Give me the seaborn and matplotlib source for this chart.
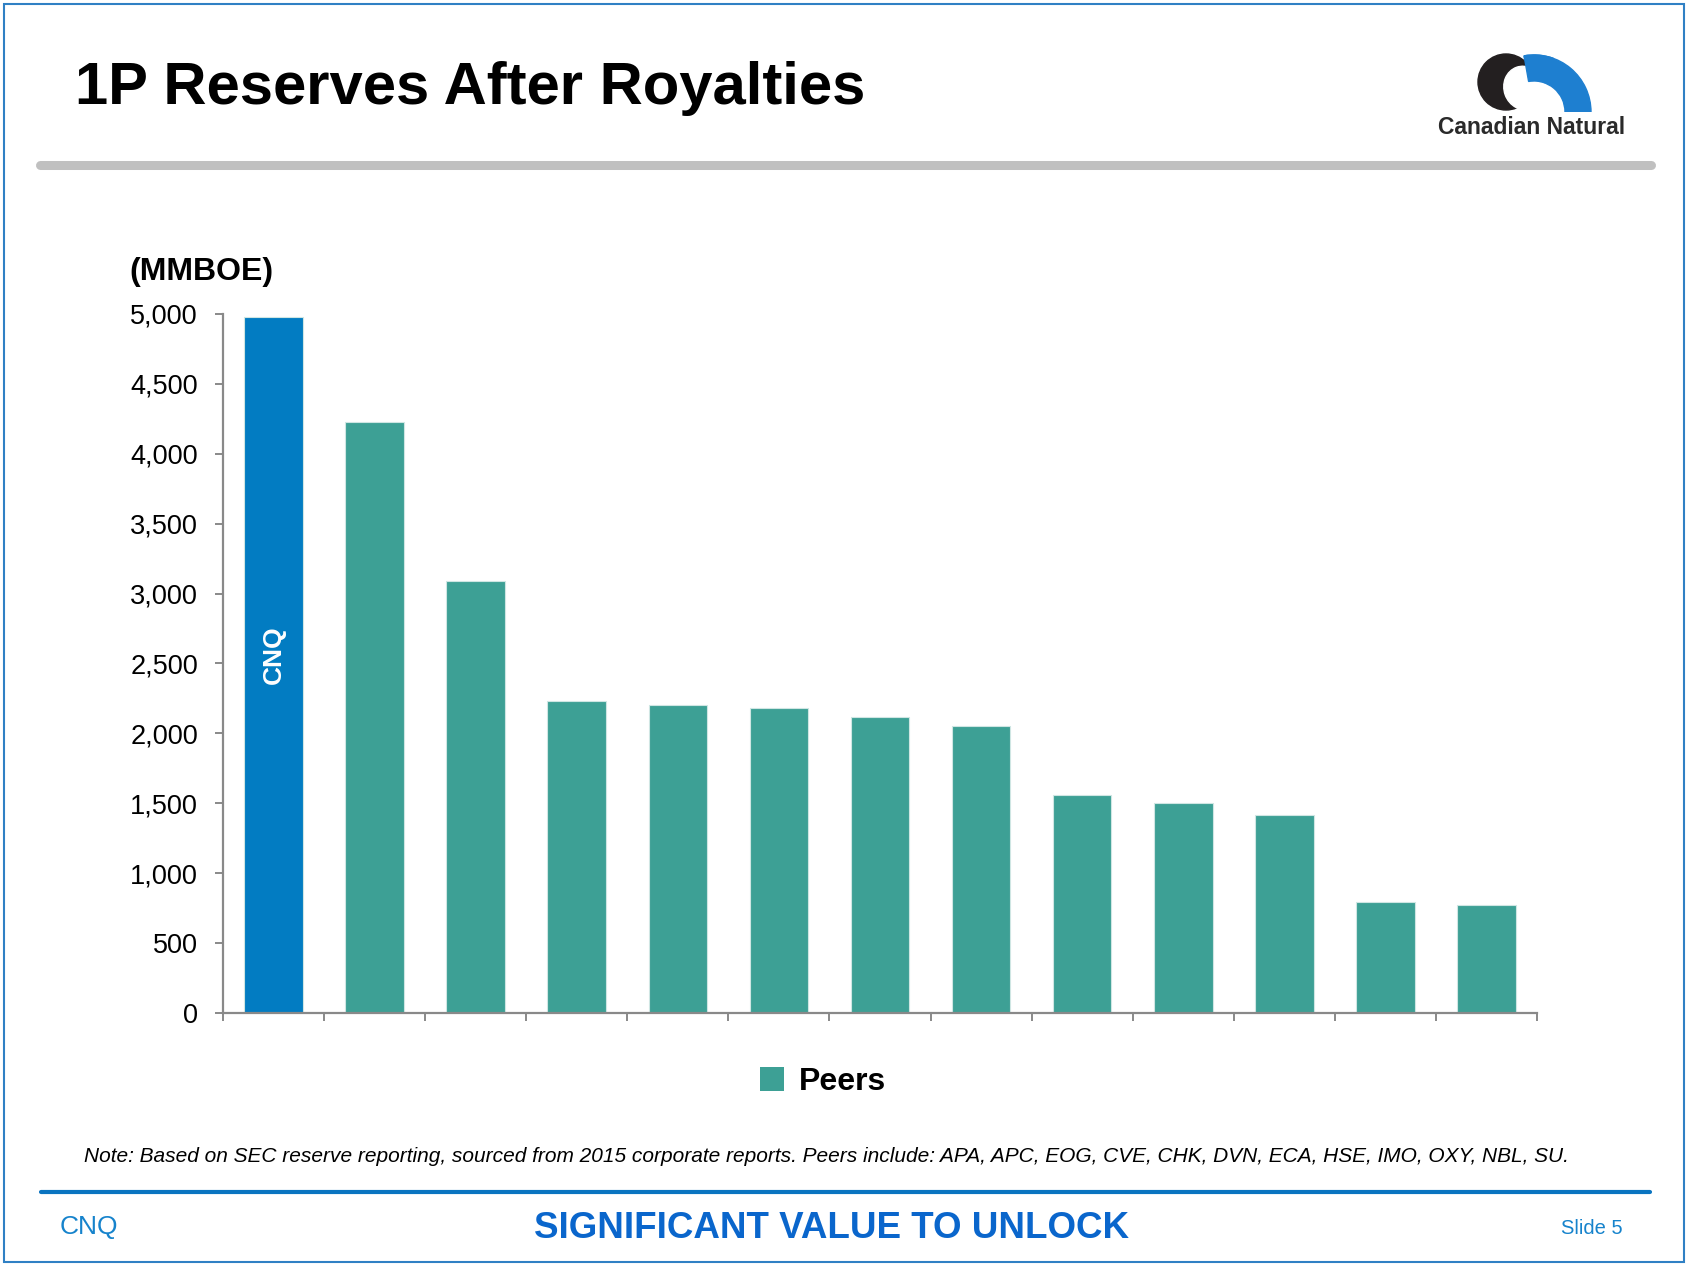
import numpy as np
import pandas as pd
import seaborn as sns
import matplotlib.pyplot as plt
from matplotlib.patches import Patch, Rectangle, Wedge, Circle, Ellipse
from matplotlib.lines import Line2D

# chart data
companies = ["CNQ", "Peer 1", "Peer 2", "Peer 3", "Peer 4", "Peer 5", "Peer 6",
             "Peer 7", "Peer 8", "Peer 9", "Peer 10", "Peer 11", "Peer 12"]
reserves = [4975, 4225, 3090, 2230, 2200, 2180, 2115, 2055, 1560, 1500, 1418, 796, 775]
groups = ["CNQ"] + ["Peers"] * 12
y_ticks = [0, 500, 1000, 1500, 2000, 2500, 3000, 3500, 4000, 4500, 5000]

colors = {"CNQ": "#027CC2", "Peers": "#3DA095"}

sns.set_theme(style="white")
plt.rcParams['font.family'] = ['Liberation Sans', 'DejaVu Sans']
plt.rcParams['text.color'] = 'black'
plt.rcParams['axes.labelcolor'] = 'black'
plt.rcParams['xtick.color'] = 'black'
plt.rcParams['ytick.color'] = 'black'

W, H = 1688, 1266
fig = plt.figure(figsize=(W / 100, H / 100), dpi=100)

def fx(px):
    return px / W

def fy(py):
    return 1 - py / H

ax = fig.add_axes([fx(223), fy(1013), fx(1537) - fx(223), fy(314) - fy(1013)])

df = pd.DataFrame({"company": companies, "reserves": reserves, "group": groups})
sns.barplot(data=df, x="company", y="reserves", hue="group", palette=colors,
            dodge=False, width=0.58, legend=False, ax=ax, saturation=1,
            edgecolor="#CFE6E3", linewidth=0.8)

ax.set_ylim(0, 5000)
ax.set_xlim(-0.5, len(companies) - 0.5)
ax.set_yticks(y_ticks)
ax.set_yticklabels([f"{v:,}" for v in y_ticks], fontsize=19.5)
ax.set_xticks(np.arange(-0.5, len(companies), 1.0))
ax.set_xticklabels([])
ax.set_xlabel("")
ax.set_ylabel("")

for side in ["top", "right"]:
    ax.spines[side].set_visible(False)
for side in ["left", "bottom"]:
    ax.spines[side].set_color("#898989")
    ax.spines[side].set_linewidth(1.6)
ax.tick_params(axis="y", length=6, width=1.4, color="#898989", pad=12,
               left=True, labelcolor="black")
ax.tick_params(axis="x", length=6, width=1.4, color="#898989", bottom=True)

# label inside CNQ bar
ax.text(0, reserves[0] / 2 + 75, "CNQ", rotation=90, ha="center", va="center",
        color="white", fontsize=19, fontweight="bold")

# units label
fig.text(fx(129), fy(272), "(MMBOE)", fontsize=23, fontweight="bold",
         ha="left", va="center")

# legend (peers only)
handles = [Patch(facecolor=colors["Peers"], edgecolor="none")]
leg = fig.legend(handles, ["Peers"], loc="center", bbox_to_anchor=(fx(823), fy(1082)),
                 frameon=False, handlelength=0.75, handleheight=0.75,
                 handletextpad=0.45, prop={"size": 23, "weight": "bold"})

# slide decoration
fig.text(fx(75), fy(88), "1P Reserves After Royalties", fontsize=43,
         fontweight="bold", ha="left", va="center")
fig.add_artist(Line2D([fx(40), fx(1651)], [fy(165), fy(165)], color="#C0C0C0",
                      lw=6.5, solid_capstyle="round"))
fig.add_artist(Rectangle((fx(4), fy(1262)), fx(1680) - fx(0), fy(4) - fy(1262),
                         fill=False, edgecolor="#2F80C4", lw=1.5))

# logo
logo_ax = fig.add_axes([fx(1470), fy(112), fx(122), fy(50) - fy(112)])
logo_ax.set_xlim(0, 122)
logo_ax.set_ylim(0, 62)
logo_ax.set_aspect("equal")
logo_ax.axis("off")
logo_ax.add_patch(Wedge((64, 0), 57, 0, 100, width=26, color="#1E7FD0"))
logo_ax.add_patch(Circle((36, 30), 28, color="#231F20"))
logo_ax.add_patch(Ellipse((54, 24), 40, 44, angle=20, color="white"))
logo_ax.add_patch(Wedge((64, 0), 57, 70, 100, width=26, color="#1E7FD0"))
fig.text(fx(1532), fy(127), "Canadian Natural", fontsize=16.5, fontweight="bold",
         color="#2A2A2A", ha="center", va="center")

fig.text(fx(84), fy(1156),
         "Note: Based on SEC reserve reporting, sourced from 2015 corporate reports. "
         "Peers include: APA, APC, EOG, CVE, CHK, DVN, ECA, HSE, IMO, OXY, NBL, SU.",
         fontsize=15, fontstyle="italic", ha="left", va="center")
fig.add_artist(Line2D([fx(41), fx(1650)], [fy(1192), fy(1192)], color="#0A74C0", lw=3))
fig.text(fx(60), fy(1227), "CNQ", fontsize=19, color="#1683CC", ha="left", va="center")
fig.text(fx(832), fy(1229), "SIGNIFICANT VALUE TO UNLOCK", fontsize=26.5,
         fontweight="bold", color="#0A66CC", ha="center", va="center")
fig.text(fx(1623), fy(1229), "Slide 5", fontsize=14.5, color="#1683CC",
         ha="right", va="center")

fig.savefig("out.png", dpi=100)
